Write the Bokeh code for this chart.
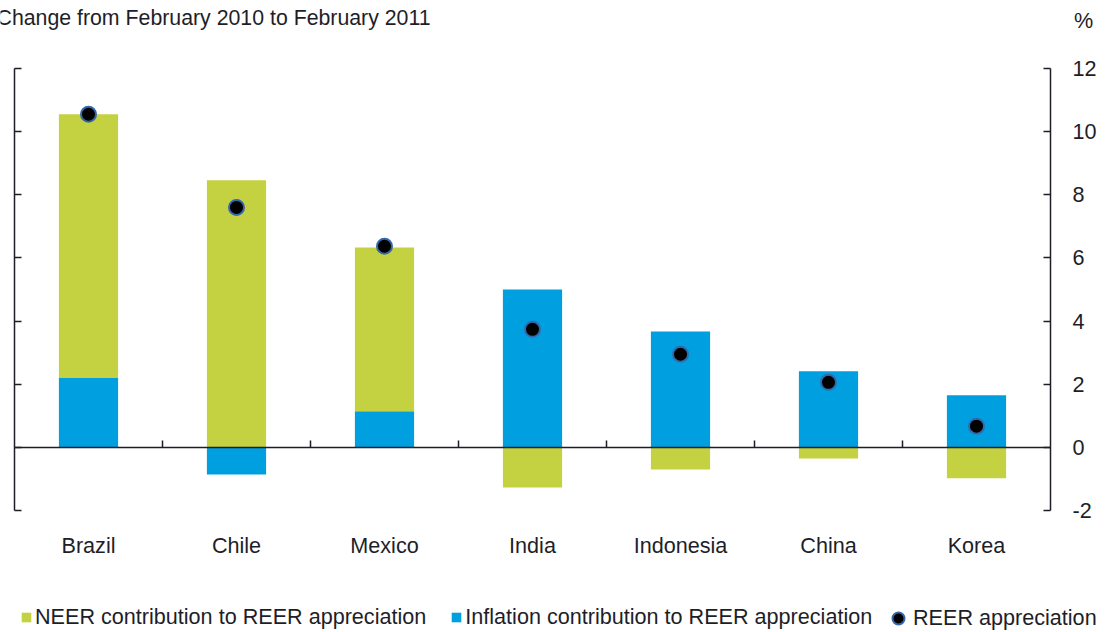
import numpy as np
from bokeh.plotting import figure
from bokeh.models import (Range1d, LinearAxis, FixedTicker, Label,
                          Legend, LegendItem, ColumnDataSource)
from bokeh.embed import file_html
from bokeh.resources import INLINE

categories = ["Brazil", "Chile", "Mexico", "India", "Indonesia", "China", "Korea"]
inflation = [2.2, -0.86, 1.14, 5.0, 3.67, 2.41, 1.65]
neer = [8.35, 8.46, 5.19, -1.27, -0.7, -0.35, -0.98]
reer = [10.55, 7.6, 6.37, 3.74, 2.95, 2.06, 0.67]
y_ticks = [-2, 0, 2, 4, 6, 8, 10, 12]
y_min, y_max = -2, 12

GREEN = "#c4d140"
BLUE = "#009fdf"
TXT = "#1e1e28"
FONT = "Liberation Sans"
FS = "21.6px"

W, H = 1109, 632
# plot area (the region spanned by the axes) in pixels
LEFT, RIGHT, TOP, BOTTOM = 14, 1050, 68, 510

n = len(categories)
x = np.arange(n)
xpx = (RIGHT - LEFT) / n
ypx = (BOTTOM - TOP) / (y_max - y_min)

# stacked bars: positive values stack upward, negative downward
pos = np.zeros(n)
neg = np.zeros(n)
stacks = {}
for name, vals in (("inf", inflation), ("neer", neer)):
    v = np.array(vals, dtype=float)
    bottom = np.where(v >= 0, pos, neg)
    top = bottom + v
    pos = np.where(v >= 0, top, pos)
    neg = np.where(v < 0, top, neg)
    stacks[name] = (bottom, top)

x_lo, x_hi = -0.5, n - 0.5
p = figure(width=W, height=H, output_backend="svg", toolbar_location=None,
           x_range=Range1d(x_lo - LEFT / xpx, x_hi + (W - RIGHT) / xpx),
           y_range=Range1d(y_min - (H - BOTTOM) / ypx, y_max + TOP / ypx),
           x_axis_location=None, y_axis_location=None,
           min_border=0, min_border_left=0, min_border_right=0,
           min_border_top=0, min_border_bottom=0)
p.background_fill_color = "white"
p.border_fill_color = "white"
p.outline_line_color = None
p.xgrid.visible = False
p.ygrid.visible = False

src_inf = ColumnDataSource(dict(x=x, bottom=stacks["inf"][0], top=stacks["inf"][1]))
src_neer = ColumnDataSource(dict(x=x, bottom=stacks["neer"][0], top=stacks["neer"][1]))
r_inf = p.vbar(x="x", bottom="bottom", top="top", width=0.4, source=src_inf,
               fill_color=BLUE, line_color=None)
r_neer = p.vbar(x="x", bottom="bottom", top="top", width=0.4, source=src_neer,
                fill_color=GREEN, line_color=None)

r_dot = p.scatter(x=x, y=reer, size=15, fill_color="black",
                  line_color="#3468ad", line_width=2)

axis_style = dict(axis_line_color=TXT, axis_line_width=1.5,
                  major_tick_line_color=TXT, major_tick_line_width=1.5,
                  minor_tick_line_color=None)

# right value axis
ra = LinearAxis(ticker=FixedTicker(ticks=y_ticks), fixed_location=x_hi,
                bounds=(y_min, y_max), major_tick_in=7, major_tick_out=0,
                major_label_overrides={-2: "-2"}, major_label_standoff=22,
                major_label_text_font=FONT, major_label_text_font_size=FS,
                major_label_text_color=TXT, **axis_style)
p.add_layout(ra, "right")

# left axis, ticks only
la = LinearAxis(ticker=FixedTicker(ticks=y_ticks), fixed_location=x_lo,
                bounds=(y_min, y_max), major_tick_in=7, major_tick_out=0,
                major_label_text_font_size="0px", major_label_standoff=0,
                **axis_style)
p.add_layout(la, "left")

# zero line with category separators
za = LinearAxis(ticker=FixedTicker(ticks=list(x[:-1] + 0.5)), fixed_location=0,
                bounds=(x_lo, x_hi), major_tick_in=7, major_tick_out=0,
                major_label_text_font_size="0px", major_label_standoff=0,
                **axis_style)
p.add_layout(za, "below")

# category names
xa = LinearAxis(ticker=FixedTicker(ticks=list(x)), fixed_location=y_min,
                major_label_overrides={int(i): c for i, c in zip(x, categories)},
                axis_line_color=None, major_tick_line_color=None,
                minor_tick_line_color=None, major_label_standoff=16,
                major_label_text_font=FONT, major_label_text_font_size=FS,
                major_label_text_color=TXT)
p.add_layout(xa, "below")

p.add_layout(Label(x=-4, y=H - 17, x_units="screen", y_units="screen",
                   text="Change from February 2010 to February 2011",
                   text_font=FONT, text_font_size="21.3px", text_color=TXT,
                   text_baseline="middle"))
p.add_layout(Label(x=1083, y=H - 20, x_units="screen", y_units="screen", text="%",
                   text_font=FONT, text_font_size=FS, text_color=TXT,
                   text_align="center", text_baseline="middle"))

leg_style = dict(orientation="horizontal", padding=0, margin=0,
                 border_line_color=None, background_fill_alpha=0,
                 label_text_font=FONT, label_text_font_size=FS,
                 label_text_color=TXT)
legend = Legend(items=[
    LegendItem(label="NEER contribution to REER appreciation", renderers=[r_neer]),
    LegendItem(label="Inflation contribution to REER appreciation", renderers=[r_inf]),
], location=(20, 2), glyph_width=12, glyph_height=12,
    label_standoff=3, spacing=24, **leg_style)
p.add_layout(legend, "center")

legend2 = Legend(items=[
    LegendItem(label="REER appreciation", renderers=[r_dot]),
], location=(883, -1), glyph_width=30, glyph_height=30,
    label_standoff=0, **leg_style)
p.add_layout(legend2, "center")

open("out.html", "w").write(file_html(p, INLINE))
